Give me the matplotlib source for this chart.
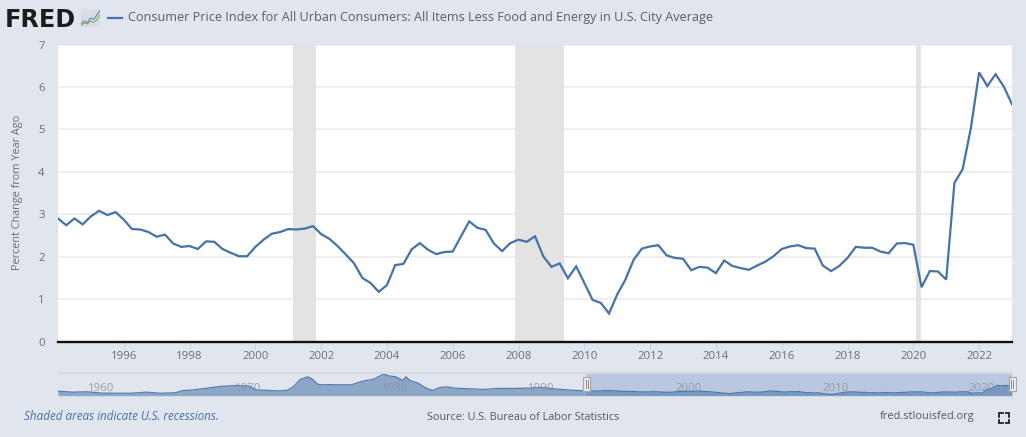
import numpy as np
import matplotlib
matplotlib.use("Agg")
import matplotlib.pyplot as plt
from matplotlib.patches import Rectangle
from matplotlib.lines import Line2D

W, H = 1026, 437
BG = "#e1e6ee"
LINE = "#4572a7"
GREY = "#6d6d6d"

title = "Consumer Price Index for All Urban Consumers: All Items Less Food and Energy in U.S. City Average"
y_label = "Percent Change from Year Ago"
source = "Source: U.S. Bureau of Labor Statistics"
shaded_note = "Shaded areas indicate U.S. recessions."
site = "fred.stlouisfed.org"

core_values = [
    2.90, 2.74, 2.90, 2.76, 2.95, 3.08, 2.98, 3.05, 2.87, 2.65,
    2.64, 2.58, 2.47, 2.52, 2.31, 2.23, 2.25, 2.18, 2.36, 2.35,
    2.18, 2.09, 2.01, 2.01, 2.23, 2.40, 2.54, 2.58, 2.65, 2.64,
    2.66, 2.72, 2.53, 2.42, 2.25, 2.05, 1.84, 1.50, 1.38, 1.17,
    1.33, 1.80, 1.83, 2.17, 2.32, 2.16, 2.06, 2.11, 2.12, 2.48,
    2.83, 2.68, 2.63, 2.31, 2.13, 2.32, 2.40, 2.35, 2.48, 2.01,
    1.76, 1.84, 1.49, 1.77, 1.38, 0.98, 0.91, 0.66, 1.11, 1.46,
    1.93, 2.19, 2.24, 2.27, 2.03, 1.97, 1.95, 1.68, 1.76, 1.74,
    1.61, 1.91, 1.78, 1.73, 1.69, 1.79, 1.88, 2.01, 2.18, 2.24,
    2.27, 2.20, 2.19, 1.79, 1.66, 1.78, 1.97, 2.23, 2.21, 2.21,
    2.12, 2.08, 2.31, 2.32, 2.28, 1.28, 1.66, 1.65, 1.46, 3.74,
    4.06, 5.03, 6.34, 6.02, 6.30, 6.01, 5.59,
]
first_year = 1994
recessions = [(2001.14, 2001.84), (2007.89, 2009.38), (2020.09, 2020.24)]
y_ticks = [0, 1, 2, 3, 4, 5, 6, 7]
x_ticks = [1996, 1998, 2000, 2002, 2004, 2006, 2008, 2010, 2012, 2014, 2016, 2018, 2020, 2022]

nav_years = [
    1958, 1959, 1960, 1961, 1962, 1963, 1964, 1965, 1966, 1966.5, 1967, 1968, 1969,
    1970, 1971, 1971.5, 1972, 1973, 1973.6, 1974, 1974.5, 1975, 1975.3, 1975.7, 1976, 1976.5,
    1977, 1978, 1978.5, 1979, 1979.5, 1980.2, 1980.5, 1981, 1981.5, 1981.7, 1982,
    1982.5, 1983, 1983.5, 1984, 1984.5, 1985, 1986, 1987, 1988, 1989, 1990, 1991,
    1992, 1993,
]
nav_values = [
    2.7, 2.1, 2.3, 1.5, 1.4, 1.4, 2.1, 1.4, 1.7, 3.1, 3.3, 4.4, 5.6,
    6.2, 6.0, 3.5, 3.3, 2.9, 3.2, 5.2, 10.0, 11.7, 10.4, 7.0, 6.7, 6.8,
    6.7, 6.7, 8.3, 9.4, 10.2, 13.5, 12.3, 11.7, 9.4, 11.7, 9.2,
    7.9, 5.0, 3.1, 5.0, 5.4, 4.6, 4.2, 3.8, 4.4, 4.4, 4.6, 5.0,
    4.0, 3.3,
]
nav_labels = [1960, 1970, 1980, 1990, 2000, 2010, 2020]

plt.rcParams["font.family"] = ["Open Sans", "DejaVu Sans"]
fig = plt.figure(figsize=(W / 100, H / 100), dpi=100, facecolor=BG)


def box(x0, y0, x1, y1):
    """Pixel box (top-left origin) to figure axes rectangle."""
    return [x0 / W, 1 - y1 / H, (x1 - x0) / W, (y1 - y0) / H]


def ftext(x, y, s, **kw):
    kw.setdefault("va", "center")
    kw.setdefault("color", GREY)
    return fig.text(x / W, 1 - y / H, s, **kw)


# --- main plot ---
quarters = first_year + np.arange(len(core_values)) / 4
ax = fig.add_axes(box(58, 44.5, 1012, 341.5), facecolor="white")
ax.set_xlim(1994, 2023)
ax.set_ylim(0, 7)
for s in ax.spines.values():
    s.set_visible(False)
ax.set_yticks(y_ticks)
ax.set_xticks(x_ticks)
ax.grid(axis="y", color="#eeeeee", lw=1.4, zorder=1)
ax.tick_params(axis="y", length=0, labelsize=8.2, labelcolor=GREY, pad=9.5)
ax.tick_params(axis="x", length=5.5, width=0.8, color="#ccd6eb", labelsize=8.2, labelcolor=GREY, pad=1.2)
for a, b in recessions:
    ax.axvspan(a, b, color="#e3e3e3", lw=0, zorder=2)
ax.plot(quarters, core_values, color=LINE, lw=1.6, zorder=3, solid_joinstyle="miter")
ax.axhline(0, color="#111111", lw=1.7, zorder=4, clip_on=False)

ftext(18, 192, y_label, rotation=90, ha="center", fontsize=7.8)

# --- header ---
ftext(5, 27, "FRED", fontsize=17.2, fontweight="bold", family=["DejaVu Sans"],
      color="#1c1c1c", ha="left", va="baseline")
icon = fig.add_axes(box(81, 9, 100, 27), facecolor="#d9dde2")
icon.set_xlim(0, 6)
icon.set_ylim(0, 6)
icon.axis("off")
icon.add_patch(Rectangle((0, 0), 6, 6, color="#d9dde2", lw=0))
icon.plot([0, 1, 2, 3, 4, 5, 6], [1, 2, 1.5, 3, 2.5, 4, 5.5], color="#5b87c0", lw=0.8)
icon.plot([0, 1, 2, 3, 4, 5, 6], [0.5, 1.3, 1, 2, 1.5, 2.4, 4], color="#7da85a", lw=0.8)

fig.add_artist(Line2D([108 / W, 122 / W], [1 - 18 / H] * 2, color=LINE, lw=1.6))
ftext(128, 18, title, fontsize=9.12, ha="left", color="#5a5f66", fontweight="medium")

# --- navigator ---
nav_x = np.r_[nav_years, quarters]
nav_y = np.r_[nav_values, core_values]
nav = fig.add_axes(box(58, 373, 1012, 395.5), facecolor=BG)
nav.set_xlim(1958, 2023)
nav.set_ylim(0, 14.06)
nav.axis("off")
nav.axvspan(1994, 2023, color="#bac8df", lw=0, zorder=1)
nav.fill_between(nav_x, 0, nav_y, color="#4572a7", alpha=0.55, lw=0, zorder=2)
nav.plot(nav_x, nav_y, color="#4572a7", lw=0.9, alpha=0.9, zorder=3)
for yr in nav_labels:
    nav.text(yr + 0.95, 4.6, str(yr), ha="center", va="center", fontsize=8.2, color="#8d929a",
             alpha=0.85, zorder=4)
fig.add_artist(Line2D([58 / W, 1012 / W], [1 - 372.6 / H] * 2, color="#d3d8df", lw=1.2))
fig.add_artist(Line2D([58 / W, 1012 / W], [1 - 395.8 / H] * 2, color="#d3d8df", lw=0.8))

for px in (586.5, 1012):
    fig.add_artist(Rectangle(((px - 3.5) / W, 1 - 391 / H), 7 / W, 14 / H, transform=fig.transFigure,
                             facecolor="#eceef1", edgecolor="#a9a9a9", lw=0.9, zorder=6))
    for dx in (-1, 1):
        fig.add_artist(Line2D([(px + dx) / W] * 2, [1 - 388 / H, 1 - 380 / H], color="#8a8a8a", lw=0.7, zorder=7))

# --- footer ---
ftext(24, 417, shaded_note, fontsize=8.35, style="italic", color="#4a6ea5", ha="left")
ftext(427, 417, source, fontsize=7.87, color="#555a60", ha="left")
ftext(880, 417, site, fontsize=7.95, color="#555a60", ha="left")

# full-screen icon
for cx, cy, sx, sy in [(999, 413, 1, 1), (1009, 413, -1, 1), (999, 423, 1, -1), (1009, 423, -1, -1)]:
    fig.add_artist(Line2D([(cx + sx * 3.5) / W, cx / W, cx / W],
                          [1 - cy / H, 1 - cy / H, 1 - (cy + sy * 3.5) / H],
                          color="#222222", lw=1.3, solid_joinstyle="miter"))

fig.savefig("out.png", dpi=100, facecolor=BG)
